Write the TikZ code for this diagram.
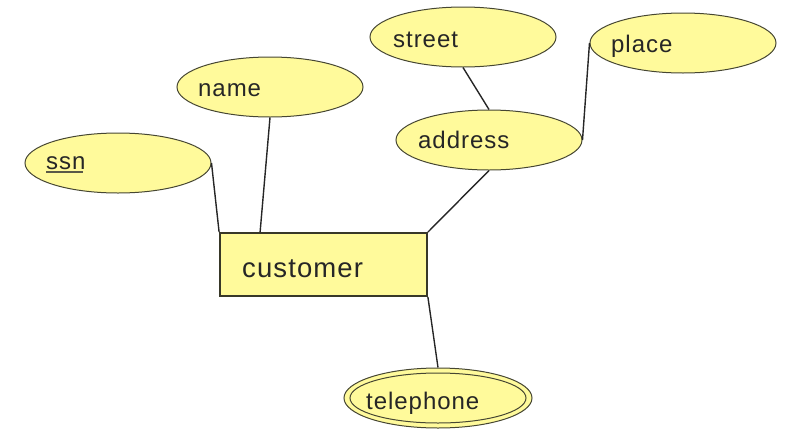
\documentclass[tikz,border=0pt]{standalone}
\usepackage{fontspec}
\setmainfont{Liberation Sans}[LetterSpace=4]
\usetikzlibrary{shapes.geometric,calc}
\definecolor{erfill}{RGB}{255,250,155}
\definecolor{erline}{RGB}{70,70,50}
\tikzset{
  attr/.style={ellipse, draw=erline, line width=1pt, fill=erfill, minimum width=186pt, minimum height=60pt, inner sep=0pt},
  innerattr/.style={ellipse, draw=erline, line width=1pt, minimum width=176pt, minimum height=50pt, inner sep=0pt},
  ent/.style={rectangle, draw=erline!80!black, line width=1.8pt, fill=erfill, minimum width=207pt, minimum height=63pt, inner sep=0pt},
  lbl/.style={anchor=base west, inner sep=0pt, font=\fontsize{24}{28}\selectfont, text=black!85},
  elbl/.style={anchor=base west, inner sep=0pt, font=\fontsize{27.5}{32}\selectfont, text=black!85},
  conn/.style={draw=black!85, line width=1.4pt},
  uline/.style={draw=erline!90, line width=2.2pt}
}
\begin{document}
\begin{tikzpicture}[x=1pt,y=-1pt]
\useasboundingbox (0,0) rectangle (785,429);
% nodes
\node[attr] (ssn) at (118,163) {};
\node[attr] (name) at (270,87) {};
\node[attr] (street) at (463,37) {};
\node[attr] (place) at (683,43) {};
\node[attr] (address) at (489,140) {};
\node[ent] (cust) at (323.5,264.5) {};
\node[attr, minimum width=188pt] (tel) at (438,398) {};
\node[innerattr] (telin) at (438,398) {};
% labels
\node[lbl] (tssn) at (46,169) {ssn};
\node[lbl] (tname) at (198,96) {name};
\node[lbl] (tstreet) at (393,47) {street};
\node[lbl] (tplace) at (611,52) {place};
\node[lbl] (taddress) at (418,148) {address};
\node[elbl] (tcust) at (242,277) {customer};
\node[lbl] (ttel) at (366,409) {telephone};
% underline of key attribute
\draw[uline] ($(tssn.base west)+(0,3)$) -- ($(tssn.base east)+(-3,3)$);
% connectors
\draw[conn] (ssn.east) -- (cust.north west);
\draw[conn] (name.south) -- ($(cust.north west)+(41,0)$);
\draw[conn] (address.south) -- (cust.north east);
\draw[conn] (street.south) -- (address.north);
\draw[conn] (place.west) -- (address.east);
\draw[conn] (cust.south east) -- (tel.north);
\end{tikzpicture}
\end{document}
